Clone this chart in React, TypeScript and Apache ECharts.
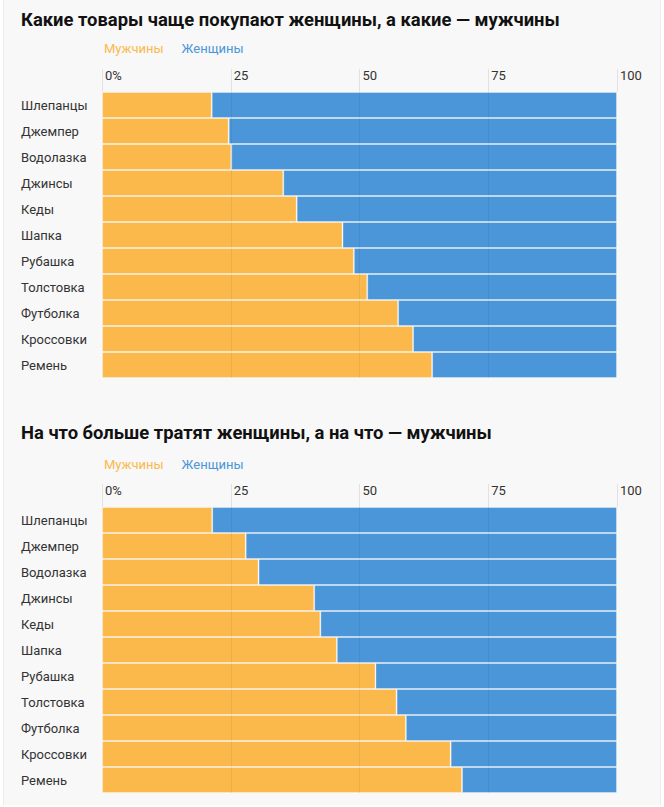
import React, { useEffect, useRef } from "react";
import * as echarts from "echarts";

const categories = [
  "Шлепанцы",
  "Джемпер",
  "Водолазка",
  "Джинсы",
  "Кеды",
  "Шапка",
  "Рубашка",
  "Толстовка",
  "Футболка",
  "Кроссовки",
  "Ремень",
];

const title1 = "Какие товары чаще покупают женщины, а какие — мужчины";
const title2 = "На что больше тратят женщины, а на что — мужчины";

const men1 = [21.3, 24.6, 25.1, 35.2, 37.8, 46.7, 48.9, 51.5, 57.5, 60.4, 64.1];
const women1 = [78.7, 75.4, 74.9, 64.8, 62.2, 53.3, 51.1, 48.5, 42.5, 39.6, 35.9];

const men2 = [21.4, 27.9, 30.4, 41.2, 42.4, 45.6, 53.1, 57.2, 59.0, 67.7, 69.9];
const women2 = [78.6, 72.1, 69.6, 58.8, 57.6, 54.4, 46.9, 42.8, 41.0, 32.3, 30.1];

const gridTicks = [25, 50, 75];

const MEN = "Мужчины";
const WOMEN = "Женщины";
const ORANGE = "#FBB84B";
const BLUE = "#4A96D9";
const FONT = "Roboto, 'Noto Sans', sans-serif";

export default function App() {
  const ref = useRef<HTMLDivElement>(null);

  useEffect(() => {
    if (!ref.current) return;
    const chart = echarts.init(ref.current, undefined, { renderer: "svg" });

    const grids = [
      { left: 102, right: 47, top: 92, height: 286 },
      { left: 102, right: 47, top: 507, height: 286 },
    ];

    const xAxis = [0, 1].map((i) => ({
      type: "value",
      gridIndex: i,
      position: "top",
      min: 0,
      max: 100,
      interval: 25,
      axisLine: { show: false },
      axisTick: {
        show: true,
        inside: false,
        length: 23,
        lineStyle: { color: "#e2e2e2", width: 1 },
      },
      splitLine: { show: false },
      axisLabel: {
        formatter: (v: number) => (v === 0 ? "0%" : String(v)),
        align: "left",
        padding: [0, 0, 0, 3],
        margin: 10,
        color: "#333",
        fontSize: 13,
        fontFamily: FONT,
      },
    }));

    const yAxis = [0, 1].map((i) => ({
      type: "category",
      gridIndex: i,
      inverse: true,
      data: categories,
      axisLine: { show: false },
      axisTick: { show: false },
      axisLabel: {
        align: "left",
        margin: 81,
        color: "#333",
        fontSize: 13,
        fontFamily: FONT,
      },
    }));

    const barStyle = (color: string) => ({
      color,
      borderColor: "rgba(255,255,255,0.32)",
      borderWidth: 1,
    });

    const markLine = {
      silent: true,
      symbol: ["none", "none"],
      label: { show: false },
      lineStyle: { color: "rgba(0,0,0,0.06)", type: "solid", width: 1 },
      data: gridTicks.map((t) => ({ xAxis: t })),
    };

    const mkSeries = (idx: number, men: number[], women: number[]) => [
      {
        type: "bar",
        name: MEN,
        xAxisIndex: idx,
        yAxisIndex: idx,
        stack: "s" + idx,
        barCategoryGap: "0%",
        data: men,
        itemStyle: barStyle(ORANGE),
      },
      {
        type: "bar",
        name: WOMEN,
        xAxisIndex: idx,
        yAxisIndex: idx,
        stack: "s" + idx,
        barCategoryGap: "0%",
        data: women,
        itemStyle: barStyle(BLUE),
        markLine,
      },
    ];

    const legendCommon = {
      orient: "horizontal",
      icon: "rect",
      itemWidth: 0,
      itemHeight: 0,
      itemGap: 12,
      selectedMode: false,
      textStyle: { fontSize: 13, fontFamily: FONT },
      data: [
        { name: MEN, textStyle: { color: ORANGE } },
        { name: WOMEN, textStyle: { color: BLUE } },
      ],
    };

    const titleStyle = { fontSize: 18.4, fontWeight: "bold", color: "#111", fontFamily: FONT };

    chart.setOption({
      animation: false,
      backgroundColor: "transparent",
      title: [
        { text: title1, left: 16, top: 5, textStyle: titleStyle },
        { text: title2, left: 16, top: 418, textStyle: titleStyle },
      ],
      legend: [
        { ...legendCommon, left: 93, top: 37 },
        { ...legendCommon, left: 93, top: 453 },
      ],
      grid: grids,
      xAxis,
      yAxis,
      series: [...mkSeries(0, men1, women1), ...mkSeries(1, men2, women2)],
    });

    return () => chart.dispose();
  }, []);

  return (
    <div style={{ position: "absolute", left: 0, top: 0, width: 664, height: 807, background: "#fff" }}>
      <div
        style={{
          position: "absolute",
          left: 3,
          top: 0,
          width: 658,
          height: 805,
          background: "#f8f8f8",
          borderLeft: "1px solid #ececec",
          borderRight: "1px solid #ececec",
          boxSizing: "border-box",
        }}
      />
      <div ref={ref} style={{ position: "absolute", left: 0, top: 0, width: 664, height: 807 }} />
    </div>
  );
}
